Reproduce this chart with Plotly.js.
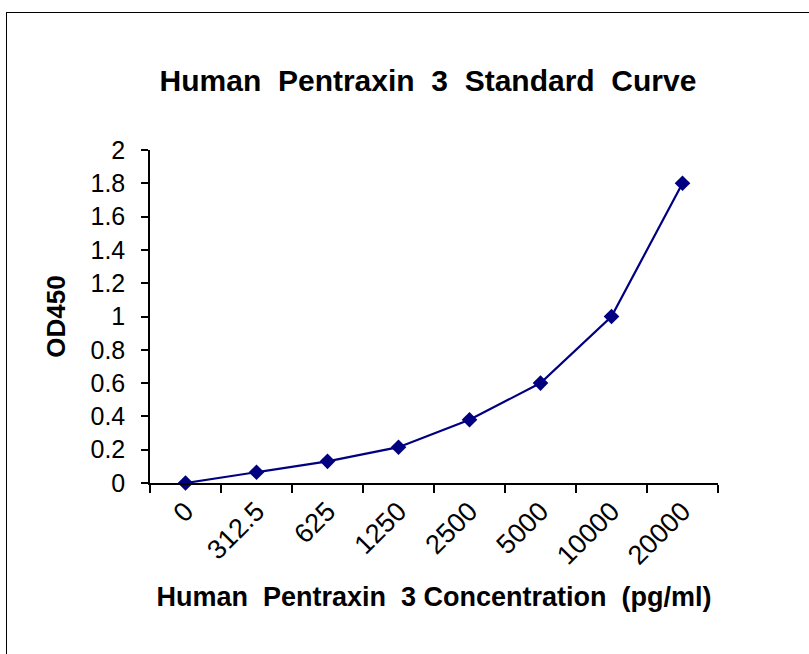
<!DOCTYPE html>
<html>
<head>
<meta charset="utf-8">
<script src="https://cdn.plot.ly/plotly-3.0.1.min.js"></script>
<style>
html,body{margin:0;padding:0;background:#fff;}
#wrap{position:relative;width:809px;height:654px;overflow:hidden;}
#chart{width:809px;height:654px;}
#frame{position:absolute;left:6px;top:12px;width:900px;height:800px;border:1.5px solid #000;pointer-events:none;box-sizing:border-box;}
</style>
</head>
<body>
<div id="wrap"><div id="chart"></div><div id="frame"></div></div>
<script>
const categories = ["0", "312.5", "625", "1250", "2500", "5000", "10000", "20000"];
const od450 = [0, 0.065, 0.13, 0.215, 0.38, 0.6, 1.0, 1.8];
const yTicks = [0, 0.2, 0.4, 0.6, 0.8, 1, 1.2, 1.4, 1.6, 1.8, 2];
const yTickText = ["0", "0.2", "0.4", "0.6", "0.8", "1", "1.2", "1.4", "1.6", "1.8", "2"];

const font = "Liberation Sans, Arial, sans-serif";

const trace = {
  x: categories,
  y: od450,
  type: "scatter",
  mode: "lines+markers",
  line: {color: "#000080", width: 2.2},
  marker: {symbol: "diamond", size: 12, color: "#000080"},
  cliponaxis: false,
  hoverinfo: "x+y"
};

const layout = {
  width: 809,
  height: 654,
  paper_bgcolor: "#ffffff",
  plot_bgcolor: "#ffffff",
  showlegend: false,
  margin: {l: 150, r: 91, t: 150, b: 171},
  font: {family: font, color: "#000"},
  title: {
    text: "<b>Human&nbsp; Pentraxin&nbsp; 3&nbsp; Standard&nbsp; Curve</b>",
    font: {family: font, size: 30, color: "#000"},
    x: 428/809, xref: "container", xanchor: "center",
    y: 1 - 80/654, yref: "container", yanchor: "middle"
  },
  xaxis: {
    type: "category",
    range: [-0.5, 7.5],
    tickson: "boundaries",
    ticks: "outside",
    ticklen: 8,
    tickwidth: 1.5,
    tickcolor: "#000",
    showline: true,
    linecolor: "#000",
    linewidth: 1.5,
    showgrid: false,
    zeroline: false,
    tickangle: -45,
    tickfont: {family: font, size: 27, color: "#000"},
    title: {
      text: "<b>Human&nbsp; Pentraxin&nbsp; 3 Concentration&nbsp; (pg/ml)</b>",
      font: {family: font, size: 27, color: "#000"},
      standoff: 18
    },
    automargin: false,
    fixedrange: true
  },
  yaxis: {
    range: [0, 2],
    tickmode: "array",
    tickvals: yTicks,
    ticktext: yTickText,
    ticks: "outside",
    ticklen: 7,
    tickwidth: 1.5,
    tickcolor: "#000",
    showline: true,
    linecolor: "#000",
    linewidth: 1.5,
    showgrid: false,
    zeroline: false,
    ticklabelstandoff: 11,
    tickfont: {family: font, size: 25, color: "#000"},
    title: {
      text: "<b>OD450</b>",
      font: {family: font, size: 26, color: "#000"},
      standoff: 17
    },
    automargin: false,
    fixedrange: true
  }
};

Plotly.newPlot("chart", [trace], layout, {displayModeBar: false});
</script>
</body>
</html>
